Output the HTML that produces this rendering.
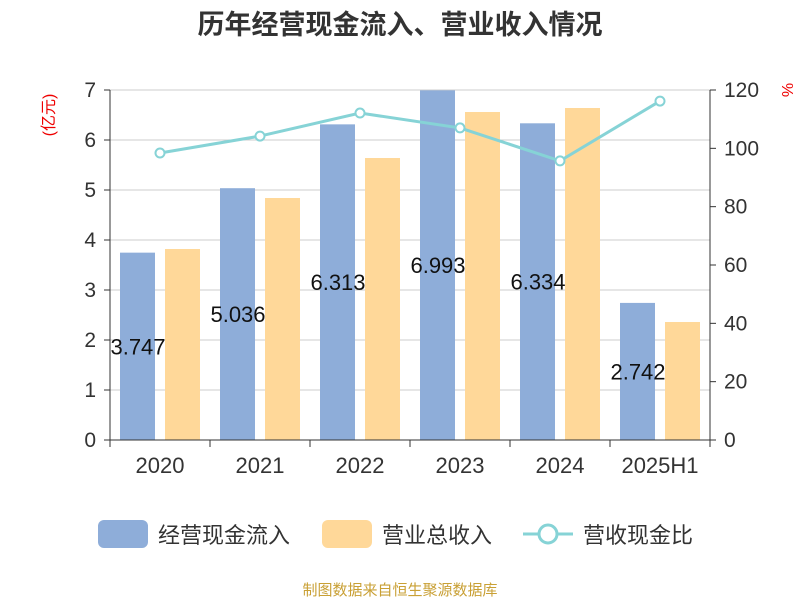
<!DOCTYPE html>
<html><head><meta charset="utf-8"><style>
body{margin:0;background:#fff;font-family:"Liberation Sans","Noto Sans CJK SC",sans-serif}
svg text{font-family:"Liberation Sans","Noto Sans CJK SC",sans-serif}
</style></head><body>
<svg id="c" width="800" height="600">
<text x="400" y="34" text-anchor="middle" font-size="27" font-weight="bold" fill="#333">历年经营现金流入、营业收入情况</text>
<text transform="translate(54,115) rotate(-90)" text-anchor="middle" font-size="16" fill="#e00">(亿元)</text>
<text transform="translate(782,90) rotate(90)" text-anchor="middle" font-size="16" fill="#e00">%</text>
<g id="grid"></g><g id="bars"></g><g id="line"></g><g id="axes"></g>
<g>
<rect x="98" y="520" width="50" height="28" rx="6" fill="#8eadd9"/>
<text x="158" y="543" font-size="22" fill="#333">经营现金流入</text>
<rect x="322" y="520" width="50" height="28" rx="6" fill="#ffd899"/>
<text x="382" y="543" font-size="22" fill="#333">营业总收入</text>
<line x1="523" y1="534" x2="573" y2="534" stroke="#86d3d6" stroke-width="3"/>
<circle cx="548" cy="534" r="9" fill="#fff" stroke="#86d3d6" stroke-width="3"/>
<text x="583" y="543" font-size="22" fill="#333">营收现金比</text>
</g>
<text x="400" y="595" text-anchor="middle" font-size="15" fill="#c9a035">制图数据来自恒生聚源数据库</text>
</svg>
<script>
const categories=["2020","2021","2022","2023","2024","2025H1"];
const cashInflow=[3.747,5.036,6.313,6.993,6.334,2.742];
const revenue=[3.82,4.84,5.64,6.56,6.64,2.36];
const ratio=[98.4,104.2,112.1,107.0,95.7,116.2];
const leftTicks=[0,1,2,3,4,5,6,7];
const rightTicks=[0,20,40,60,80,100,120];
const NS="http://www.w3.org/2000/svg";
const x0=110,x1=710,yb=440,yt=90;
const bw=(x1-x0)/categories.length;
const yL=v=>yb-(v/7)*(yb-yt);
const yR=v=>yb-(v/120)*(yb-yt);
const xC=i=>x0+bw*(i+0.5);
function mk(p,t,a){const e=document.createElementNS(NS,t);for(const k in a)e.setAttribute(k,a[k]);p.appendChild(e);return e;}
const G=document.getElementById('grid'),B=document.getElementById('bars'),L=document.getElementById('line'),A=document.getElementById('axes');
leftTicks.forEach(v=>{
 const g=mk(G,'line',{x1:x0,x2:x1,y1:yL(v),y2:yL(v),stroke:'#ccc','stroke-width':1});
 
 
 const t=mk(A,'text',{x:x0-14,y:yL(v)+7,'text-anchor':'end','font-size':21,fill:'#333'});
 t.textContent=v;
 
 
 mk(A,'line',{x1:x0-6,x2:x0,y1:yL(v),y2:yL(v),stroke:'#333'});
});
rightTicks.forEach(v=>{
 const t=mk(A,'text',{x:x1+14,y:yR(v)+7,'font-size':21,fill:'#333'});
 t.textContent=v;
 
 
 mk(A,'line',{x1:x1,x2:x1+6,y1:yR(v),y2:yR(v),stroke:'#333'});
});
mk(A,'line',{x1:x0,x2:x0,y1:yt,y2:yb,stroke:'#333'});
mk(A,'line',{x1:x1,x2:x1,y1:yt,y2:yb,stroke:'#333'});
mk(A,'line',{x1:x0,x2:x1,y1:yb,y2:yb,stroke:'#333'});
for(let i=0;i<=categories.length;i++)mk(A,'line',{x1:x0+bw*i,x2:x0+bw*i,y1:yb,y2:yb+7,stroke:'#333'});
categories.forEach((c,i)=>{
 const t=mk(A,'text',{x:xC(i),y:yb+33,'text-anchor':'middle','font-size':22,fill:'#333'});
 t.textContent=c;
 
 
 const cx=xC(i);
 const b1=mk(B,'rect',{x:cx-40,y:yL(cashInflow[i]),width:35,height:yb-yL(cashInflow[i]),fill:'#8eadd9'});
 
 
 const b2=mk(B,'rect',{x:cx+5,y:yL(revenue[i]),width:35,height:yb-yL(revenue[i]),fill:'#ffd899'});
 
 
 const lb=mk(L,'text',{x:cx-22,y:(yL(cashInflow[i])+yb)/2+8,'text-anchor':'middle','font-size':22,fill:'#111'});
 lb.textContent=cashInflow[i].toFixed(3);
 
 
});
const pl=mk(L,'polyline',{points:ratio.map((v,i)=>xC(i)+','+yR(v)).join(' '),fill:'none',stroke:'#86d3d6','stroke-width':3});


ratio.forEach((v,i)=>{
 const c=mk(L,'circle',{cx:xC(i),cy:yR(v),r:4.5,fill:'#fff',stroke:'#86d3d6','stroke-width':2});
 
 
});
</script>
</body></html>
